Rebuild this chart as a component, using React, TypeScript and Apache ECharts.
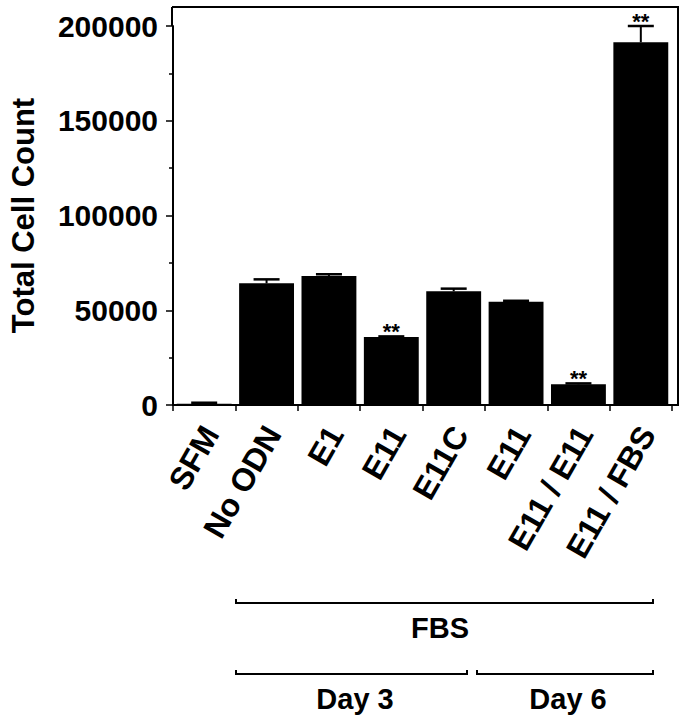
import React, { useEffect, useRef } from "react";
import * as echarts from "echarts";

const categories = ["SFM", "No ODN", "E1", "E11", "E11C", "E11", "E11 / E11", "E11 / FBS"];
const cellCounts = [700, 64200, 68100, 35900, 60000, 54500, 10900, 191400];
const errors = [500, 2100, 900, 300, 1400, 500, 500, 8600];
const significance = ["", "", "", "**", "", "", "**", "**"];
const yTicks = [0, 50000, 100000, 150000, 200000];

const FONT = "'Liberation Sans', Arial, Helvetica, sans-serif";

export default function App() {
  const ref = useRef<HTMLDivElement>(null);

  useEffect(() => {
    if (!ref.current) return;
    const chart = echarts.init(ref.current, null, { renderer: "svg" });

    const errorData = cellCounts.map((v, i) => [i, v, errors[i]]);

    const bracket = (x1: number, x2: number, y: number) => ({
      type: "polyline",
      shape: { points: [[x1, y - 4], [x1, y], [x2, y], [x2, y - 4]] },
      style: { stroke: "#000", lineWidth: 2, fill: null },
    });
    const label = (text: string, x: number, y: number) => ({
      type: "text",
      x,
      y,
      style: {
        text,
        fill: "#000",
        font: `bold 29px ${FONT}`,
        align: "center",
        verticalAlign: "middle",
      },
    });

    chart.setOption({
      animation: false,
      backgroundColor: "#fff",
      grid: [{ left: 172, right: 20, top: 26, bottom: 315, containLabel: false }],
      xAxis: [
        {
          type: "category",
          data: categories,
          axisLine: { lineStyle: { color: "#000", width: 2 } },
          axisTick: { show: true, length: 6, lineStyle: { color: "#000", width: 1.5 } },
          axisLabel: {
            interval: 0,
            rotate: 60,
            margin: 20,
            color: "#000",
            fontFamily: FONT,
            fontWeight: "bold",
            fontSize: 32,
            verticalAlign: "top",
            lineHeight: 15,
          },
        },
      ],
      yAxis: [
        {
          type: "value",
          min: 0,
          max: yTicks[yTicks.length - 1],
          interval: 50000,
          name: "Total Cell Count",
          nameLocation: "middle",
          nameGap: 134,
          nameTextStyle: {
            color: "#000",
            fontFamily: FONT,
            fontWeight: "bold",
            fontSize: 31,
          },
          axisLine: { show: true, lineStyle: { color: "#000", width: 2 } },
          axisTick: { show: true, length: 7, lineStyle: { color: "#000", width: 1.5 } },
          minorTick: { show: true, splitNumber: 2, length: 4, lineStyle: { color: "#000", width: 1.5 } },
          splitLine: { show: false },
          axisLabel: {
            margin: 15,
            color: "#000",
            fontFamily: FONT,
            fontWeight: "bold",
            fontSize: 30,
            formatter: (v: number) => String(v),
          },
        },
      ],
      series: [
        {
          type: "bar",
          data: cellCounts,
          barCategoryGap: "12%",
          itemStyle: { color: "#000" },
        },
        {
          type: "custom",
          clip: false,
          z: 5,
          data: errorData,
          encode: { x: 0, y: 1 },
          renderItem: (params: any, api: any) => {
            const idx = api.value(0);
            const v = api.value(1);
            const e = api.value(2);
            const base = api.coord([idx, v]);
            const top = api.coord([idx, v + e]);
            const sig = significance[params.dataIndex];
            const children: any[] = [
              {
                type: "line",
                shape: { x1: base[0], y1: base[1], x2: top[0], y2: top[1] },
                style: { stroke: "#000", lineWidth: 2 },
              },
              {
                type: "line",
                shape: { x1: top[0] - 13, y1: top[1], x2: top[0] + 13, y2: top[1] },
                style: { stroke: "#000", lineWidth: 2.5 },
              },
            ];
            if (sig) {
              children.push({
                type: "text",
                x: top[0],
                y: top[1] - 5,
                style: {
                  text: sig,
                  fill: "#000",
                  font: `bold 22px ${FONT}`,
                  align: "center",
                  verticalAlign: "middle",
                },
              });
            }
            return { type: "group", children };
          },
        },
      ],
      graphic: [
        {
          type: "polyline",
          shape: { points: [[172, 7], [678, 7], [678, 405], [671, 405]] },
          style: { stroke: "#000", lineWidth: 2, fill: null },
        },
        {
          type: "line",
          shape: { x1: 172, y1: 7, x2: 172, y2: 26 },
          style: { stroke: "#000", lineWidth: 2 },
        },
        bracket(236, 653, 603),
        label("FBS", 440, 628),
        bracket(236, 467, 674),
        bracket(477, 653, 674),
        label("Day 3", 355, 699),
        label("Day 6", 568, 699),
      ],
    });

    return () => chart.dispose();
  }, []);

  return (
    <div
      ref={ref}
      style={{ position: "fixed", left: 0, top: 0, width: 692, height: 720, background: "#fff" }}
    />
  );
}
